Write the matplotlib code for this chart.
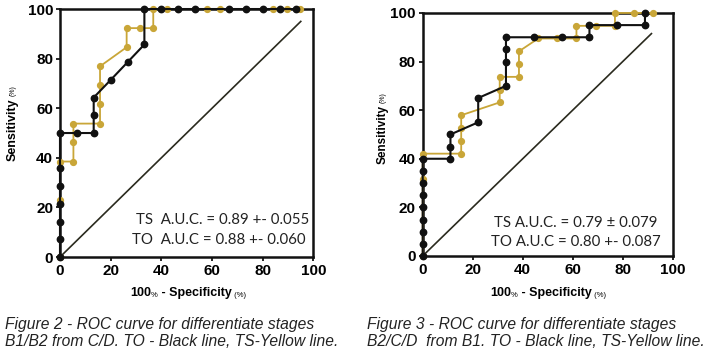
import matplotlib
matplotlib.use("Agg")
import matplotlib.pyplot as plt
from matplotlib import font_manager

# Figure 2 - B1/B2 vs C/D
f2_to_x = [0, 0, 0, 0, 0, 0, 0, 6.7, 13.3, 13.3, 13.3, 20, 26.7, 33.3, 33.3,
           40, 46.7, 53.3, 66.7, 73.3, 80, 86.7, 93.3]
f2_to_y = [0, 7.1, 14.3, 21.4, 28.6, 35.7, 50, 50, 50, 57.1, 64.3, 71.4, 78.6, 85.7, 100,
           100, 100, 100, 100, 100, 100, 100, 100]
f2_ts_x = [0, 0, 0, 5.3, 5.3, 5.3, 15.8, 15.8, 15.8, 15.8, 26.3, 26.3, 31.6, 36.8, 36.8,
           42.1, 57.9, 63.2, 84.2, 89.5, 94.7]
f2_ts_y = [0, 23.1, 38.5, 38.5, 46.2, 53.8, 53.8, 61.5, 69.2, 76.9, 84.6, 92.3, 92.3, 92.3, 100,
           100, 100, 100, 100, 100, 100]

# Figure 3 - B2/C/D vs B1
f3_to_x = [0, 0, 0, 0, 0, 0, 0, 0, 0, 11.1, 11.1, 11.1, 22.2, 22.2, 33.3, 33.3, 33.3, 33.3,
           44.4, 55.6, 66.7, 66.7, 77.8, 88.9, 88.9]
f3_to_y = [0, 5, 10, 15, 20, 25, 30, 35, 40, 40, 45, 50, 55, 65, 70, 80, 85, 90,
           90, 90, 90, 95, 95, 95, 100]
f3_ts_x = [0, 0, 0, 15.4, 15.4, 15.4, 15.4, 30.8, 30.8, 30.8, 38.5, 38.5, 38.5, 46.2, 53.8,
           61.5, 61.5, 69.2, 76.9, 76.9, 84.6, 92.3]
f3_ts_y = [0, 31.6, 42.1, 42.1, 47.4, 52.6, 57.9, 63.2, 68.4, 73.7, 73.7, 78.9, 84.2, 89.5, 89.5,
           89.5, 94.7, 94.7, 94.7, 100, 100, 100]

ticks = [0, 20, 40, 60, 80, 100]
auc_f2 = ["TS  A.U.C. = 0.89 +- 0.055", "TO  A.U.C = 0.88 +- 0.060"]
auc_f3 = ["TS A.U.C. = 0.79 \u00b1 0.079", "TO A.U.C = 0.80 +- 0.087"]
cap_f2 = ["Figure 2 - ROC curve for differentiate stages",
          "B1/B2 from C/D. TO - Black line, TS-Yellow line."]
cap_f3 = ["Figure 3 - ROC curve for differentiate stages",
          "B2/C/D  from B1. TO - Black line, TS-Yellow line."]

YELLOW = "#c9a638"
BLACK = "#111111"

names = {f.name for f in font_manager.fontManager.ttflist}
CAP_FONT = "Liberation Sans Narrow" if "Liberation Sans Narrow" in names else "Liberation Sans"
plt.rcParams["font.family"] = ["Liberation Sans", "DejaVu Sans"]

fig = plt.figure(figsize=(7.09, 3.55), dpi=100)


def roc_panel(rect, to_x, to_y, ts_x, ts_y, diag_end, auc, auc_pos):
    ax = fig.add_axes(rect)
    ax.plot([0, diag_end], [0, diag_end], color="#2a2a1e", lw=1.2, zorder=1)
    ax.plot(ts_x, ts_y, color=YELLOW, lw=1.3, marker="o", ms=4.2, clip_on=False, zorder=3)
    ax.plot(to_x, to_y, color=BLACK, lw=1.5, marker="o", ms=4.6, clip_on=False, zorder=4)
    ax.set_xlim(0, 100)
    ax.set_ylim(0, 100)
    ax.set_xticks(ticks)
    ax.set_yticks(ticks)
    ax.tick_params(length=3, width=1.2, pad=2, labelsize=11)
    for lab in ax.get_xticklabels() + ax.get_yticklabels():
        lab.set_fontweight("bold")
    for sp in ax.spines.values():
        sp.set_linewidth(1.8)
        sp.set_color(BLACK)
    for txt, (x, y) in zip(auc, auc_pos):
        ax.text(x, y, txt, ha="right", va="center", fontsize=10.8,
                family=["Lato", "DejaVu Sans"], color="#222222")
    return ax


def xlabel(x, y):
    prev = fig.text(x, y, "100", fontsize=9, fontweight="bold", va="baseline")
    for s, size, w in (("%", 5.5, "normal"), (" - Specificity", 9, "bold"), (" (%)", 5.5, "normal")):
        prev = fig.add_artist(plt.Annotation(s, xy=(1, 0), xycoords=prev, va="bottom",
                                             fontsize=size, fontweight=w))


def ylabel(x, y, size):
    t1 = fig.text(x, y, "Sensitivity", fontsize=size, fontweight="bold",
                  rotation=90, ha="center", va="center")
    fig.add_artist(plt.Annotation("(%)", xy=(0.5, 1), xycoords=t1, xytext=(0, 2),
                                  textcoords="offset points", rotation=90,
                                  ha="center", va="bottom", fontsize=5))


roc_panel([0.0846, 0.276, 0.3575, 0.6986], f2_to_x, f2_to_y, f2_ts_x, f2_ts_y, 95,
          auc_f2, [(98.5, 15), (97, 7)])
roc_panel([0.5962, 0.279, 0.3526, 0.6845], f3_to_x, f3_to_y, f3_ts_x, f3_ts_y, 91.5,
          auc_f3, [(94, 13.7), (95.3, 5.8)])

xlabel(130 / 709, 1 - 296 / 355)
xlabel(490 / 709, 1 - 296 / 355)
ylabel(13 / 709, 1 - 130 / 355, 9)
ylabel(383 / 709, 1 - 135 / 355, 8.5)

# captions: scale font so the first line is as wide as in the source
caps = []
for lines, x in ((cap_f2, 5 / 709), (cap_f3, 367 / 709)):
    for line, yy in zip(lines, (324, 342)):
        caps.append(fig.text(x, 1 - yy / 355, line, fontsize=10, style="italic",
                             family=[CAP_FONT, "DejaVu Sans"], va="center", color="#222222"))
fig.canvas.draw()
r = fig.canvas.get_renderer()
scale = 308 / caps[0].get_window_extent(r).width
for t in caps:
    t.set_fontsize(10 * scale)

fig.savefig("out.png", dpi=100)
